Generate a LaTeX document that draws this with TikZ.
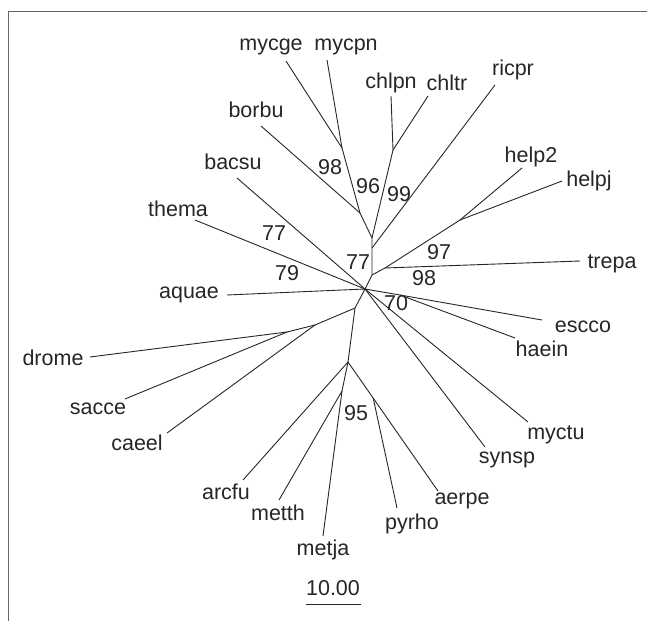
\documentclass[tikz,border=0pt]{standalone}
\usepackage{fontspec}
\setmainfont{Liberation Sans}
\usetikzlibrary{calc}
\begin{document}
\begin{tikzpicture}[x=1pt,y=-1pt,
  br/.style={line width=0.9pt, draw=black!85},
  frame/.style={line width=1pt, draw=black!60},
  lbl/.style={font=\fontsize{21.5}{24}\selectfont, text=black!85, inner sep=0pt, anchor=center},
  ]
\useasboundingbox (0,0) rectangle (647,621);
\draw[frame] (647,11) -- (8,11) -- (8,621);
% internal nodes
\coordinate (C) at (365,289);
\coordinate (Nup) at (372,275);
\coordinate (Nr) at (372,248);
\coordinate (Nmc) at (372,238);
\coordinate (Nch) at (393,150);
\coordinate (Nb) at (360,213);
\coordinate (Nm) at (342,148);
\coordinate (Ntr) at (385,268);
\coordinate (H) at (460,220);
\coordinate (E) at (400,295);
\coordinate (D) at (355,308);
\coordinate (A) at (315,325);
\coordinate (B) at (287,332);
\coordinate (M1) at (348,362);
\coordinate (M2) at (342,391);
% leaf ends
\coordinate (emycge) at (286,61);
\coordinate (emycpn) at (327,60);
\coordinate (echlpn) at (391,96);
\coordinate (echltr) at (428,96);
\coordinate (ericpr) at (495,85);
\coordinate (eborbu) at (261,126);
\coordinate (ebacsu) at (237,178);
\coordinate (ethema) at (195,220);
\coordinate (eaquae) at (227,295);
\coordinate (edrome) at (90,357);
\coordinate (esacce) at (125,399);
\coordinate (ecaeel) at (167,433);
\coordinate (earcfu) at (243,480);
\coordinate (emetth) at (279,500);
\coordinate (emetja) at (323,536);
\coordinate (epyrho) at (397,508);
\coordinate (eaerpe) at (438,491);
\coordinate (esynsp) at (485,447);
\coordinate (emyctu) at (528,422);
\coordinate (ehaein) at (515,338);
\coordinate (eescco) at (542,320);
\coordinate (etrepa) at (580,261);
\coordinate (ehelpj) at (562,181);
\coordinate (ehelp2) at (522,168);
\coordinate (P) at ($(M1)!0.28!(eaerpe)$);
% branches
\draw[br] (C) -- (Nup) -- (Nr) -- (Nmc);
\draw[br] (Nr) -- (ericpr);
\draw[br] (Nmc) -- (Nch);
\draw[br] (Nch) -- (echlpn);
\draw[br] (Nch) -- (echltr);
\draw[br] (Nmc) -- (Nb);
\draw[br] (Nb) -- (eborbu);
\draw[br] (Nb) -- (Nm);
\draw[br] (Nm) -- (emycge);
\draw[br] (Nm) -- (emycpn);
\draw[br] (Nup) -- (Ntr) -- (H);
\draw[br] (Ntr) -- (etrepa);
\draw[br] (H) -- (ehelp2);
\draw[br] (H) -- (ehelpj);
\draw[br] (C) -- (E) -- (eescco);
\draw[br] (E) -- (ehaein);
\draw[br] (C) -- (esynsp);
\draw[br] (C) -- (emyctu);
\draw[br] (C) -- (ethema);
\draw[br] (C) -- (ebacsu);
\draw[br] (C) -- (eaquae);
\draw[br] (C) -- (D) -- (A);
\draw[br] (A) -- (ecaeel);
\draw[br] (A) -- (B);
\draw[br] (B) -- (edrome);
\draw[br] (B) -- (esacce);
\draw[br] (D) -- (M1);
\draw[br] (M1) -- (earcfu);
\draw[br] (M1) -- (M2);
\draw[br] (M2) -- (emetth);
\draw[br] (M2) -- (emetja);
\draw[br] (M1) -- (eaerpe);
\draw[br] (P) -- (epyrho);
% leaf labels
\node[lbl] (mycge) at (271,47) {mycge};
\node[lbl] (mycpn) at (346,47) {mycpn};
\node[lbl] (chlpn) at (391,83) {chlpn};
\node[lbl] (chltr) at (447,83) {chltr};
\node[lbl] (ricpr) at (513,70) {ricpr};
\node[lbl] (help2) at (531,157) {help2};
\node[lbl] (helpj) at (589,181) {helpj};
\node[lbl] (trepa) at (612,264) {trepa};
\node[lbl] (escco) at (583,327) {escco};
\node[lbl] (haein) at (542,349) {haein};
\node[lbl] (myctu) at (556,435) {myctu};
\node[lbl] (synsp) at (507,460) {synsp};
\node[lbl] (aerpe) at (462,501) {aerpe};
\node[lbl] (pyrho) at (412,524) {pyrho};
\node[lbl] (metja) at (323,550) {metja};
\node[lbl] (metth) at (278,513) {metth};
\node[lbl] (arcfu) at (226,492) {arcfu};
\node[lbl] (caeel) at (137,443) {caeel};
\node[lbl] (sacce) at (98,409) {sacce};
\node[lbl] (drome) at (53,358) {drome};
\node[lbl] (aquae) at (189,295) {aquae};
\node[lbl] (thema) at (178,209) {thema};
\node[lbl] (bacsu) at (233,162) {bacsu};
\node[lbl] (borbu) at (256,110) {borbu};
% bootstrap values
\node[lbl] (b98a) at (330,167) {98};
\node[lbl] (b96) at (368,186) {96};
\node[lbl] (b99) at (399,194) {99};
\node[lbl] (b77a) at (274,233) {77};
\node[lbl] (b79) at (287,273) {79};
\node[lbl] (b77b) at (358,262) {77};
\node[lbl] (b97) at (439,252) {97};
\node[lbl] (b98b) at (424,278) {98};
\node[lbl] (b70) at (396,303) {70};
\node[lbl] (b95) at (356,413) {95};
% scale bar
\node[lbl] (sb) at (333,588) {10.00};
\coordinate (sbL) at (306,604);
\coordinate (sbR) at (361,604);
\draw[br] (sbL) -- (sbR);
\end{tikzpicture}
\end{document}
